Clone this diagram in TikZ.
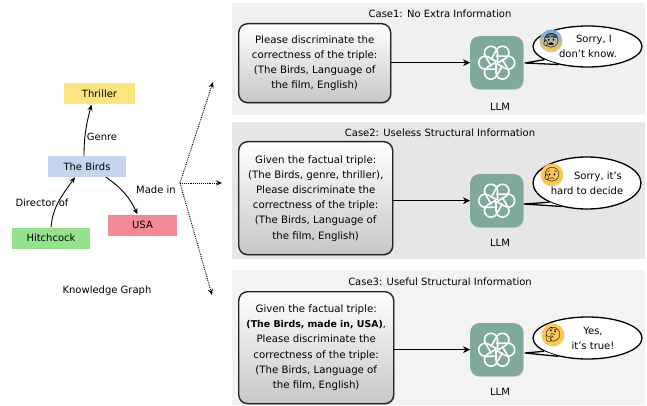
\documentclass[tikz,border=0pt]{standalone}
\usepackage{fontspec}
\setmainfont{DejaVu Sans}
\newfontfamily\emojifont{Noto Emoji}
\usetikzlibrary{arrows.meta,shapes.geometric,shadows,calc}
\definecolor{panelA}{HTML}{F0F0F0}
\definecolor{panelB}{HTML}{E6E6E6}
\definecolor{panelC}{HTML}{F3F3F3}
\definecolor{logoC}{HTML}{7FA99B}
\definecolor{kgY}{RGB}{252,228,128}
\definecolor{kgB}{RGB}{198,213,238}
\definecolor{kgG}{RGB}{150,226,140}
\definecolor{kgR}{RGB}{242,138,150}
\definecolor{faceB}{RGB}{120,170,230}
\definecolor{faceY}{RGB}{250,200,90}
\tikzset{
  kgnode/.style={inner sep=0pt,minimum height=21pt,font=\fontsize{10}{11}\selectfont},
  lbl/.style={inner sep=0pt,font=\fontsize{10}{11}\selectfont},
  panel/.style={inner sep=0pt,anchor=north west},
  query/.style={draw=black!85,line width=1.4pt,rounded corners=9pt,top color=white,bottom color=black!22,
    anchor=north west,inner sep=0pt,align=center,font=\fontsize{10.2}{15.2}\selectfont,
    drop shadow={shadow xshift=1pt,shadow yshift=-1pt,fill=black!40}},
  logobox/.style={fill=logoC,rounded corners=9pt,minimum width=53pt,minimum height=53pt,inner sep=0pt,anchor=north west,
    drop shadow={shadow xshift=.7pt,shadow yshift=-.7pt,fill=black!35}},
  bubble/.style={ellipse,draw=black,fill=white,line width=1.3pt,inner sep=0pt},
  kgarrow/.style={-{Stealth[length=6pt,width=5pt]},line width=.9pt,black},
  dotarrow/.style={-{Stealth[length=6pt,width=5pt]},densely dotted,line width=.9pt,black},
  flow/.style={-{Stealth[length=7pt,width=7pt]},line width=1.4pt,black},
  face/.style={circle,inner sep=0pt,minimum size=14pt,font=\emojifont\fontsize{14}{14}\selectfont},
  saying/.style={inner sep=0pt,align=center,font=\fontsize{10}{15}\selectfont},
}
\newcommand{\knot}[1]{%
  \foreach \a in {0,60,...,300}{
    \draw[white,line width=1.6pt,line cap=round,line join=round,shift={(#1)},rotate=\a]
      (0,-6.5) -- (11.5,-6.5) arc[start angle=-90,end angle=120,radius=6.5] -- ++(-7.8,-4.5);
  }
}
\newcommand{\tail}[4]{%
  \fill[white] (#1.#2) -- (#4) -- (#1.#3) -- cycle;
  \draw[black,line width=1.3pt,line join=round] (#1.#2) -- (#4) -- (#1.#3);
}
\begin{document}
\begin{tikzpicture}[x=1pt,y=-1pt]
\useasboundingbox (0,0) rectangle (647,406);
\fill[white] (0,0) rectangle (647,406);
\node[panel,fill=panelA,minimum width=413pt,minimum height=112pt] (p1) at (232,3) {};
\node[panel,fill=panelB,minimum width=413pt,minimum height=137pt] (p2) at (232,122) {};
\node[panel,fill=panelC,minimum width=413pt,minimum height=135pt] (p3) at (232,270) {};
\node[lbl] (t1) at (440,14) {Case1: No Extra Information};
\node[lbl] (t2) at (440,133) {Case2: Useless Structural Information};
\node[lbl] (t3) at (440,282) {Case3: Useful Structural Information};
\node[kgnode,fill=kgY,minimum width=71pt] (thr) at (99.5,94) {Thriller};
\node[kgnode,fill=kgB,minimum width=78pt] (bir) at (87,166.5) {The Birds};
\node[kgnode,fill=kgG,minimum width=78pt] (hit) at (51,238) {Hitchcock};
\node[kgnode,fill=kgR,minimum width=69pt] (usa) at (142.5,225) {USA};
\draw[kgarrow] ([xshift=-3pt]bir.north) to[out=90,in=-105] ([xshift=-8pt]thr.south);
\draw[kgarrow] (hit.north) to[out=85,in=-125] ([xshift=-12pt]bir.south);
\draw[kgarrow] ([xshift=19pt]bir.south) to[out=-35,in=115] ([xshift=-5pt]usa.north);
\node[lbl] (lg) at (102,137) {Genre};
\node[lbl] (ld) at (42,203) {Director of};
\node[lbl] (lm) at (156,190) {Made in};
\node[lbl] (lk) at (107,291) {Knowledge Graph};
\coordinate (hub) at (180,183);
\coordinate (ha) at (213,82);
\coordinate (hb) at (222,183);
\coordinate (hc) at (212,295);
\draw[dotarrow] (hub) -- (ha);
\draw[dotarrow] (hub) -- (hb);
\draw[dotarrow] (hub) -- (hc);
\node[query,minimum width=152pt,minimum height=79pt] (q1) at (238,23) {Please discriminate the\\correctness of the triple:\\(The Birds, Language of\\the film, English)};
\node[query,minimum width=154pt,minimum height=113pt] (q2) at (238,141) {Given the factual triple:\\(The Birds, genre, thriller),\\Please discriminate the\\correctness of the triple:\\(The Birds, Language of\\the film, English)};
\node[query,minimum width=155pt,minimum height=112pt] (q3) at (238,291) {Given the factual triple:\\{\fontsize{9.4}{15.2}\selectfont\textbf{(The Birds, made in, USA)},}\\Please discriminate the\\correctness of the triple:\\(The Birds, Language of\\the film, English)};
\node[logobox] (l1) at (470,36) {};
\node[logobox] (l2) at (470,174) {};
\node[logobox] (l3) at (470,323) {};
\knot{l1.center}
\knot{l2.center}
\knot{l3.center}
\draw[flow] (q1.east |- l1.west) -- (l1.west);
\draw[flow] (q2.east |- l2.west) -- (l2.west);
\draw[flow] (q3.east |- l3.west) -- (l3.west);
\node[lbl] (m1) at (500,107) {LLM};
\node[lbl] (m2) at (500,243) {LLM};
\node[lbl] (m3) at (500,392) {LLM};
\node[bubble,minimum width=109pt,minimum height=41pt] (b1) at (587.5,46.5) {};
\node[bubble,minimum width=108pt,minimum height=52pt] (b2) at (587,183) {};
\node[bubble,minimum width=109pt,minimum height=42pt] (b3) at (587.5,338) {};
\coordinate (tp1) at (525,63);
\coordinate (tp2) at (524,204);
\coordinate (tp3) at (525,353);
\tail{b1}{212}{197}{tp1}
\tail{b2}{222}{207}{tp2}
\tail{b3}{212}{197}{tp3}
\node[saying] (s1) at (588,46) {\hspace*{12pt}Sorry, I\\don't know.};
\node[saying] (s2) at (587,183) {\hspace*{22pt}Sorry, it's\\hard to decide};
\node[saying] (s3) at (593,338) {Yes,\\it's true!};
\node[face,top color=faceB,bottom color=faceY] (f1) at (551,41) {😰};
\node[face,fill=faceY] (f2) at (552,175) {😥};
\node[face,fill=faceY] (f3) at (553,335) {🤔};
\end{tikzpicture}
\end{document}
